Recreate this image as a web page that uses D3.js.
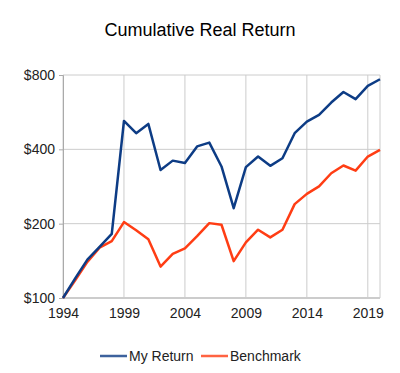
<!DOCTYPE html>
<html><head><meta charset="utf-8">
<script src="https://cdn.jsdelivr.net/npm/d3@7"></script>
<style>body{margin:0;background:#fff}svg{display:block}text{font-family:"Liberation Sans",Arial,sans-serif}</style>
</head><body>
<svg id="c" width="400" height="373"></svg>
<script>
const years = d3.range(1994, 2021);
const myReturn = [100,120,143,161,182,521,465,507,330,360,352,411,426,341,231,339,374,343,368,465,518,552,619,683,639,723,769];
const benchmark = [100,118,140,160,170,203,188,173,134,151,159,178,201,198,141,168,189,176,189,240,264,283,320,344,328,374,398];
const yTicks = [100,200,400,800];
const xTicks = [1994,1999,2004,2009,2014,2019];
const seriesNames = ["My Return","Benchmark"];
const colors = ["#0d3c85","#ff3d14"];

const svg = d3.select("#c");
const m = {l:63, r:380, t:75, b:298};
const x = d3.scaleLinear().domain([1994,2020]).range([m.l, m.r]);
const y = d3.scaleLog().domain([100,800]).range([m.b, m.t]);

svg.append("text").attr("x",200).attr("y",36).attr("text-anchor","middle")
  .style("font-size","18px").attr("fill","#000").text("Cumulative Real Return");

// grid
svg.append("g").selectAll("line").data(yTicks).join("line")
  .attr("x1",m.l).attr("x2",m.r).attr("y1",d=>y(d)).attr("y2",d=>y(d))
  .attr("stroke","#cccccc").attr("stroke-width",1);
svg.append("g").selectAll("line").data(xTicks).join("line")
  .attr("x1",d=>x(d)).attr("x2",d=>x(d)).attr("y1",m.t).attr("y2",m.b)
  .attr("stroke","#cccccc").attr("stroke-width",1);
svg.append("line").attr("x1",m.r).attr("x2",m.r).attr("y1",m.t).attr("y2",m.b).attr("stroke","#cccccc");
svg.append("line").attr("x1",m.l).attr("x2",m.r).attr("y1",m.b).attr("y2",m.b).attr("stroke","#cccccc").attr("stroke-width",2);

// axes
const yAxis = d3.axisLeft(y).tickValues(yTicks).tickFormat(d=>"$"+d).tickSize(4).tickPadding(4);
const gy = svg.append("g").attr("transform",`translate(${m.l},0)`).call(yAxis);
gy.select(".domain").attr("stroke","#aaaaaa");
gy.selectAll(".tick line").attr("stroke","#aaaaaa");
gy.selectAll("text").style("font-size","14px").attr("fill","#222");

const xAxis = d3.axisBottom(x).tickValues(xTicks).tickFormat(d3.format("d")).tickSize(0).tickPadding(10);
const gx = svg.append("g").attr("transform",`translate(0,${m.b})`).call(xAxis);
gx.select(".domain").remove();
gx.selectAll("text").style("font-size","14px").attr("fill","#222");

const line = d3.line().x((d,i)=>x(years[i])).y(d=>y(d));
[benchmark, myReturn].forEach((s,k)=>{
  svg.append("path").datum(s).attr("d",line).attr("fill","none")
    .attr("stroke", k===0?colors[1]:colors[0]).attr("stroke-width",2.5).attr("stroke-linejoin","round");
});

// legend
const lg = svg.append("g");
const lx = [100, 201];
seriesNames.forEach((n,i)=>{
  lg.append("line").attr("x1",lx[i]).attr("x2",lx[i]+27).attr("y1",356).attr("y2",356)
    .attr("stroke",colors[i]).attr("stroke-width",2.5).attr("opacity",0.8);
  lg.append("text").attr("x",lx[i]+29).attr("y",361).style("font-size","14px").attr("fill","#222").text(n);
});
</script>
</body></html>
